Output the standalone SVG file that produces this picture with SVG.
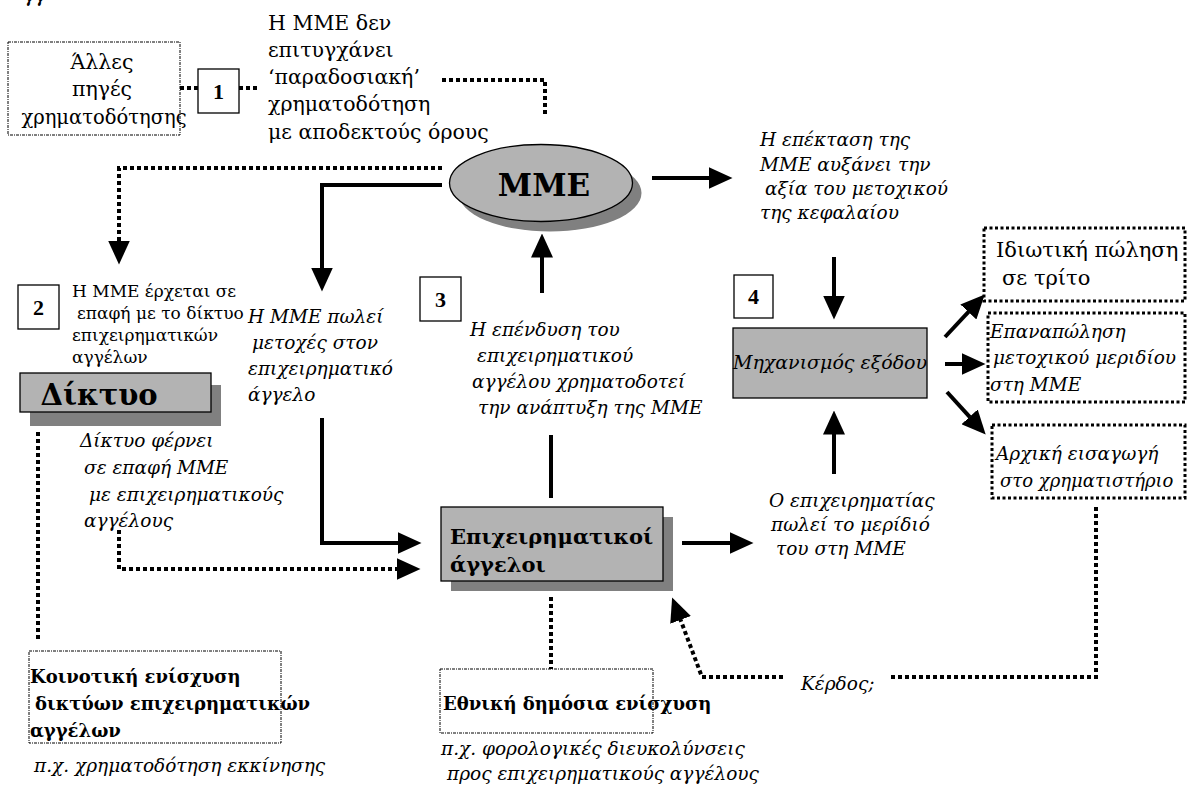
<svg xmlns="http://www.w3.org/2000/svg" width="1188" height="787" viewBox="0 0 1188 787">
<defs>
<marker id="ah" markerUnits="userSpaceOnUse" markerWidth="24" markerHeight="22" viewBox="0 0 24 22" refX="0.5" refY="11" orient="auto"><path d="M0,0 L24,11 L0,22 Z" fill="#000" stroke="none"/></marker>
</defs>
<style>
text{font-family:"DejaVu Serif","Liberation Serif",serif;fill:#000}
.r23{font-size:20.5px}
.r19{font-size:17px}
.r22{font-size:21px}
.i21{font-size:18.5px;font-style:italic}
.bk{font-weight:bold;font-size:18px}
.num{font-size:22px;font-weight:bold;text-anchor:middle;font-family:"Liberation Serif",serif}
.sol{fill:none;stroke:#000;stroke-width:4}
.dot{fill:none;stroke:#000;stroke-width:4;stroke-dasharray:4 3}
.thin{fill:#fff;stroke:#000;stroke-width:1;stroke-dasharray:3 1 1 1}
.thick{fill:#fff;stroke:#000;stroke-width:3;stroke-dasharray:3 2.5}
.nbox{fill:#fff;stroke:#000;stroke-width:1.3}
.gray{fill:#b3b3b3;stroke:#000;stroke-width:1.3}
.shadow{fill:#808080}
</style>

<text class="i21" x="24" y="2">γγ</text>

<g id="connectors">
<path class="dot" d="M180,88 H198"/>
<path class="dot" d="M239,88 H260"/>
<path class="dot" d="M442,80 H545 V117"/>
<path class="dot" d="M442,168 H119 V241" marker-end="url(#ah)"/>
<path class="sol" d="M442,185 H322 V268" marker-end="url(#ah)"/>
<path class="sol" d="M542,293 V257" marker-end="url(#ah)"/>
<path class="sol" d="M322,418 V543 H398" marker-end="url(#ah)"/>
<path class="dot" d="M119,530 V569 H397" marker-end="url(#ah)"/>
<path class="sol" d="M551,435 V498"/>
<path class="dot" d="M551,597 V669"/>
<path class="dot" d="M38,432 V641"/>
<path class="sol" d="M682,543 H730" marker-end="url(#ah)"/>
<path class="sol" d="M652,178 H709" marker-end="url(#ah)"/>
<path class="sol" d="M834,257 V296" marker-end="url(#ah)"/>
<path class="sol" d="M834,474 V434" marker-end="url(#ah)"/>
<path class="sol" d="M945,337 L968.7,311.6" marker-end="url(#ah)"/>
<path class="sol" d="M945,364 H962" marker-end="url(#ah)"/>
<path class="sol" d="M947,392 L969.9,417.2" marker-end="url(#ah)"/>
<path class="dot" d="M1096,507 V677 H890"/>
<path class="dot" d="M783,677 H702 L680.4,619.5" marker-end="url(#ah)"/>
</g>

<g id="node-alles">
<rect class="thin" x="8" y="42" width="172" height="93"/>
<text class="r23" x="102" y="69" font-size="20" text-anchor="middle">Άλλες</text>
<text class="r23" x="102" y="96" text-anchor="middle">πηγές</text>
<text class="r23" x="104" y="124" style="font-size:19.5px" text-anchor="middle">χρηματοδότησης</text>
</g>

<g id="node-1">
<rect class="nbox" x="198" y="69" width="41" height="44"/>
<text class="num" x="218.5" y="99">1</text>
</g>

<g id="label-1">
<text class="r23" x="268" y="30">Η ΜΜΕ δεν</text>
<text class="r23" x="268" y="57">επιτυγχάνει</text>
<text class="r23" x="268" y="84">‘παραδοσιακή’</text>
<text class="r23" x="268" y="111">χρηματοδότηση</text>
<text class="r23" x="268" y="139">με αποδεκτούς όρους</text>
</g>

<g id="node-mme">
<ellipse class="shadow" cx="550" cy="193" rx="91.5" ry="38.5"/>
<ellipse class="gray" cx="541" cy="183" rx="91.5" ry="38.5"/>
<text x="544" y="196" font-size="31" font-weight="bold" text-anchor="middle">ΜΜΕ</text>
</g>

<g id="node-2">
<rect class="nbox" x="18" y="285" width="41" height="44"/>
<text class="num" x="38.5" y="315">2</text>
</g>

<g id="label-2">
<text class="r19" x="72" y="297">Η ΜΜΕ έρχεται σε</text>
<text class="r19" x="77" y="319">επαφή με το δίκτυο</text>
<text class="r19" x="72" y="341">επιχειρηματικών</text>
<text class="r19" x="72" y="363">αγγέλων</text>
</g>

<g id="node-diktyo">
<rect class="shadow" x="30" y="385" width="191" height="41"/>
<rect class="gray" x="20" y="373" width="191" height="39"/>
<text x="99" y="405" font-size="29" font-weight="bold" text-anchor="middle">Δίκτυο</text>
</g>

<g id="label-diktyo">
<text class="i21" x="80" y="447">Δίκτυο φέρνει</text>
<text class="i21" x="84" y="474">σε επαφή ΜΜΕ</text>
<text class="i21" x="89" y="501">με επιχειρηματικούς</text>
<text class="i21" x="84" y="527">αγγέλους</text>
</g>

<g id="node-koinotiki">
<rect class="thin" x="29" y="651" width="252" height="92"/>
<text class="bk" x="30" y="683">Κοινοτική ενίσχυση</text>
<text class="bk" x="35" y="710">δικτύων επιχειρηματικών</text>
<text class="bk" x="30" y="737">αγγέλων</text>
<text class="i21" x="34" y="772">π.χ. χρηματοδότηση εκκίνησης</text>
</g>

<g id="label-polei">
<text class="i21" x="248" y="323">Η ΜΜΕ πωλεί</text>
<text class="i21" x="252" y="349">μετοχές στον</text>
<text class="i21" x="248" y="375">επιχειρηματικό</text>
<text class="i21" x="248" y="401">άγγελο</text>
</g>

<g id="node-3">
<rect class="nbox" x="420" y="277" width="41" height="44"/>
<text class="num" x="440.5" y="307">3</text>
</g>

<g id="label-ependysi">
<text class="i21" x="470" y="336">Η επένδυση του</text>
<text class="i21" x="477" y="362">επιχειρηματικού</text>
<text class="i21" x="472" y="388">αγγέλου χρηματοδοτεί</text>
<text class="i21" x="478" y="414">την ανάπτυξη της ΜΜΕ</text>
</g>

<g id="node-angeloi">
<rect class="shadow" x="451" y="517" width="222" height="74"/>
<rect class="gray" x="441" y="507" width="222" height="74"/>
<text x="450" y="544" font-size="21" font-weight="bold">Επιχειρηματικοί</text>
<text x="450" y="572" font-size="21" font-weight="bold">άγγελοι</text>
</g>

<g id="node-ethniki">
<rect class="thin" x="440" y="669" width="213" height="64"/>
<text class="bk" x="443" y="710">Εθνική δημόσια ενίσχυση</text>
<text class="i21" x="441" y="755">π.χ. φορολογικές διευκολύνσεις</text>
<text class="i21" x="447" y="780">προς επιχειρηματικούς αγγέλους</text>
</g>

<g id="label-epektasi">
<text class="i21" x="760" y="146">Η επέκταση της</text>
<text class="i21" x="760" y="171">ΜΜΕ αυξάνει την</text>
<text class="i21" x="765" y="195">αξία του μετοχικού</text>
<text class="i21" x="760" y="219">της κεφαλαίου</text>
</g>

<g id="node-4">
<rect class="nbox" x="734" y="275" width="39" height="43"/>
<text class="num" x="753.5" y="304">4</text>
</g>

<g id="node-exodos">
<rect class="gray" x="733" y="328" width="194" height="70"/>
<text x="830" y="369" font-size="19" font-style="italic" text-anchor="middle">Μηχανισμός εξόδου</text>
</g>

<g id="label-poleimeridio">
<text class="i21" x="769" y="507">Ο επιχειρηματίας</text>
<text class="i21" x="771" y="531">πωλεί το μερίδιό</text>
<text class="i21" x="776" y="555">του στη ΜΜΕ</text>
</g>

<g id="node-idiotiki">
<rect class="thick" x="984" y="228" width="201" height="73"/>
<text class="r22" x="996" y="257">Ιδιωτική πώληση</text>
<text class="r22" x="1002" y="285">σε τρίτο</text>
</g>

<g id="node-epanapolisi">
<rect class="thick" x="988" y="313" width="197" height="89"/>
<text class="i21" x="990" y="338">Επαναπώληση</text>
<text class="i21" x="993" y="364">μετοχικού μεριδίου</text>
<text class="i21" x="990" y="391">στη ΜΜΕ</text>
</g>

<g id="node-archiki">
<rect class="thick" x="992" y="425" width="193" height="73"/>
<text class="i21" x="996" y="460">Αρχική εισαγωγή</text>
<text class="i21" x="1000" y="487" style="font-size:18px">στο χρηματιστήριο</text>
</g>

<g id="label-kerdos">
<text class="i21" x="801" y="690">Κέρδος;</text>
</g>
</svg>
